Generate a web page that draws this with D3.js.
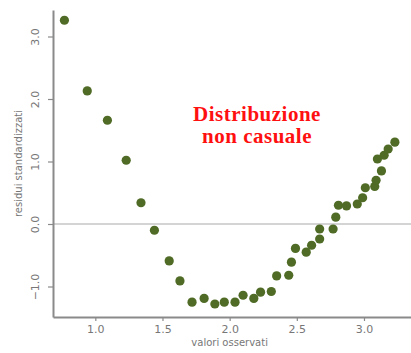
<!DOCTYPE html>
<html>
<head>
<meta charset="utf-8">
<script src="https://cdn.jsdelivr.net/npm/d3@7"></script>
<style>
  body { margin: 0; background: #fff; }
  svg { display: block; }
</style>
</head>
<body>
<svg width="411" height="353"></svg>
<script>
// observed values (x) and standardized residuals (y)
const observed = [
  0.77, 0.94, 1.09, 1.23, 1.34, 1.44, 1.55, 1.63, 1.72, 1.81,
  1.89, 1.96, 2.04, 2.10, 2.18, 2.23, 2.31, 2.35, 2.44, 2.46,
  2.49, 2.57, 2.61, 2.67, 2.67, 2.77, 2.79, 2.81, 2.87, 2.95,
  2.99, 3.01, 3.08, 3.09, 3.13, 3.10, 3.15, 3.18, 3.23
];
const residuals = [
  3.26, 2.13, 1.66, 1.02, 0.34, -0.10, -0.59, -0.91, -1.25, -1.19,
  -1.28, -1.25, -1.25, -1.14, -1.19, -1.09, -1.08, -0.83, -0.82, -0.61,
  -0.39, -0.45, -0.34, -0.24, -0.08, -0.08, 0.11, 0.30, 0.29, 0.32,
  0.42, 0.58, 0.60, 0.70, 0.85, 1.04, 1.10, 1.20, 1.31
];
const xTicks = [1.0, 1.5, 2.0, 2.5, 3.0];
const yTicks = [-1.0, 0.0, 1.0, 2.0, 3.0];
const annotation = ["Distribuzione", "non casuale"];

const AXIS_COLOR = "#8a8a8a";
const TEXT_COLOR = "#777";
const DOT_COLOR = "#4f6b25";

const svg = d3.select("svg");
const plotLeft = 53, plotRight = 411, plotTop = 10, plotBottom = 317;

const x = d3.scaleLinear().domain([0.685, 3.35]).range([plotLeft, plotRight]);
const y = d3.scaleLinear().domain([-1.488, 3.424]).range([plotBottom, plotTop]);

// zero reference line
svg.append("line")
  .attr("x1", plotLeft).attr("x2", plotRight)
  .attr("y1", y(0)).attr("y2", y(0))
  .attr("stroke", "#aaa")
  .attr("stroke-width", 1.2);

// x axis
const gx = svg.append("g")
  .attr("transform", `translate(0,${plotBottom})`)
  .call(d3.axisBottom(x).tickValues(xTicks).tickFormat(d3.format(".1f")).tickSize(4).tickSizeOuter(0));

// y axis
const gy = svg.append("g")
  .attr("transform", `translate(${plotLeft},0)`)
  .call(d3.axisLeft(y).tickValues(yTicks).tickFormat(d3.format(".1f")).tickSize(5).tickSizeOuter(0));

[gx, gy].forEach((g) => {
  g.select(".domain").attr("stroke", AXIS_COLOR).attr("stroke-width", 2);
  g.selectAll(".tick line").attr("stroke", AXIS_COLOR).attr("stroke-width", 1.2);
  g.selectAll(".tick text")
    .attr("fill", TEXT_COLOR)
    .attr("font-family", "DejaVu Sans, sans-serif")
    .attr("font-size", 11);
});

gx.selectAll(".tick text").attr("dy", "0.85em");

// rotated y tick labels
gy.selectAll(".tick text")
  .attr("x", null)
  .attr("dy", null)
  .attr("text-anchor", "middle")
  .attr("transform", "translate(-14,0) rotate(-90)");

// axis titles
svg.append("text")
  .attr("x", (x(1.0) + x(3.0)) / 2)
  .attr("y", 346)
  .attr("text-anchor", "middle")
  .attr("fill", TEXT_COLOR)
  .attr("font-family", "DejaVu Sans, sans-serif")
  .attr("font-size", 10)
  .text("valori osservati");

svg.append("text")
  .attr("transform", `translate(22,${(plotTop + plotBottom) / 2}) rotate(-90)`)
  .attr("text-anchor", "middle")
  .attr("fill", TEXT_COLOR)
  .attr("font-family", "DejaVu Sans, sans-serif")
  .attr("font-size", 10)
  .text("residui standardizzati");

// points
svg.append("g")
  .selectAll("circle")
  .data(observed.map((v, i) => ({ x: v, y: residuals[i] })))
  .join("circle")
  .attr("cx", (d) => x(d.x))
  .attr("cy", (d) => y(d.y))
  .attr("r", 4.6)
  .attr("fill", DOT_COLOR);

// annotation
svg.append("text")
  .attr("x", 257)
  .attr("y", 121)
  .attr("text-anchor", "middle")
  .attr("fill", "#ff1010")
  .attr("font-family", "Liberation Serif, DejaVu Serif, serif")
  .attr("font-weight", "bold")
  .attr("font-size", 21)
  .attr("letter-spacing", 0.5)
  .selectAll("tspan")
  .data(annotation)
  .join("tspan")
  .attr("x", 257)
  .attr("dy", (d, i) => (i === 0 ? 0 : 22))
  .text((d) => d);
</script>
</body>
</html>
